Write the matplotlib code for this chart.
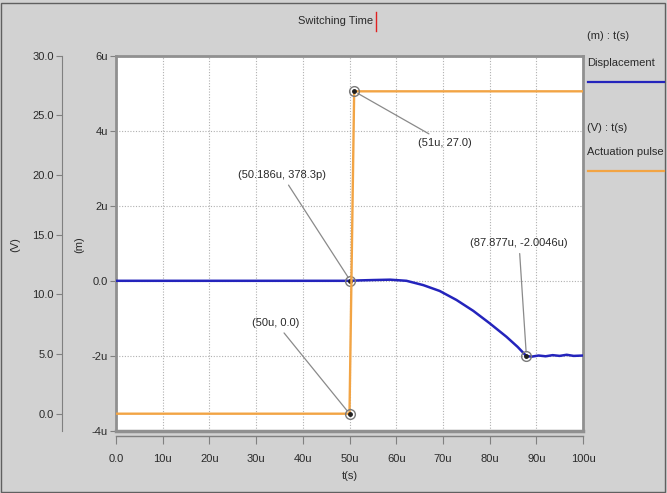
import matplotlib
matplotlib.use("Agg")
import matplotlib.pyplot as plt
from matplotlib.lines import Line2D
from matplotlib.patches import Rectangle

plt.rcParams['font.family'] = ['Liberation Sans Narrow', 'Liberation Sans', 'DejaVu Sans']
plt.rcParams['font.size'] = 8

# data (time in microseconds)
t_disp = [0, 50, 50.186, 52, 55, 58.7, 62.2, 65.8, 69.3, 72.9, 76.5, 80, 83.6, 86.0, 87.877,
          89, 90.5, 92, 93.5, 95, 96.5, 98, 100]
disp = [0, 0, 0.0003783, 0.01, 0.02, 0.03, 0.0, -0.115, -0.27, -0.51, -0.80, -1.13, -1.49,
        -1.76, -2.0046, -2.02, -1.99, -2.01, -1.98, -2.0, -1.97, -2.0, -1.99]

t_pulse = [0, 50, 51, 100]
v_pulse = [0, 0, 27, 27]

x_ticks = [0, 10, 20, 30, 40, 50, 60, 70, 80, 90, 100]
x_labels = ['0.0', '10u', '20u', '30u', '40u', '50u', '60u', '70u', '80u', '90u', '100u']
m_ticks = [6, 4, 2, 0, -2, -4]
m_labels = ['6u', '4u', '2u', '0.0', '-2u', '-4u']
v_ticks = [30, 25, 20, 15, 10, 5, 0]
v_labels = ['30.0', '25.0', '20.0', '15.0', '10.0', '5.0', '0.0']

W, H = 667, 493
bg = '#d2d2d2'
txt = '#2a2a2a'
blue = '#2424bc'
orange = '#f2a444'

fig = plt.figure(figsize=(W / 100, H / 100), dpi=100, facecolor=bg)
fig.patches.append(Rectangle((1.5 / W, 1.5 / H), 1 - 4 / W, 1 - 4 / H, transform=fig.transFigure,
                             fill=False, edgecolor='#606060', lw=1))

left, right, top, bottom = 116, 583, 55.5, 431
ax = fig.add_axes([left / W, 1 - bottom / H, (right - left) / W, (bottom - top) / H])
ax.set_facecolor('white')

ax.plot(t_disp, disp, color=blue, lw=1.8, zorder=3)
ax.set_xlim(0, 100)
ax.set_ylim(-4, 6)
ax.set_xticks(x_ticks)
ax.set_xticklabels(x_labels)
ax.set_yticks(m_ticks)
ax.set_yticklabels(m_labels)
ax.grid(True, color='#b0b0b0', linestyle=(0, (1, 1.5)), lw=0.8)

for s in ['top', 'right', 'left']:
    ax.spines[s].set_color('#909090')
    ax.spines[s].set_linewidth(2)
ax.spines['bottom'].set_position(('outward', 3.5))
ax.spines['bottom'].set_color('#808080')
ax.spines['bottom'].set_linewidth(1)
ax.axhline(-4, color='#909090', lw=2.5, clip_on=False, zorder=4)
ax.tick_params(axis='x', direction='out', length=6, color='#808080', labelcolor=txt, pad=7)
ax.tick_params(axis='y', direction='out', length=4, color='#808080', labelcolor=txt, pad=2)
ax.set_xlabel('t(s)', color=txt, labelpad=5)

# voltage axis
ax2 = ax.twinx()
ax2.plot(t_pulse, v_pulse, color=orange, lw=1.7, zorder=3)
v_bottom = -(bottom - 413.7) / ((413.7 - top) / 30)
ax2.set_ylim(v_bottom, 30)
ax2.yaxis.set_ticks_position('left')
ax2.yaxis.set_label_position('left')
ax2.spines['left'].set_position(('axes', (62 - left) / (right - left)))
ax2.spines['left'].set_color('#808080')
for s in ['top', 'right', 'bottom']:
    ax2.spines[s].set_visible(False)
ax2.set_yticks(v_ticks)
ax2.set_yticklabels(v_labels)
ax2.tick_params(axis='y', direction='out', length=4, color='#808080', labelcolor=txt, pad=2)

fig.text(15 / W, 1 - 245 / H, '(V)', rotation=90, ha='center', va='center', color=txt)
fig.text(79 / W, 1 - 245 / H, '(m)', rotation=90, ha='center', va='center', color=txt)

# markers and annotations
mk = dict(marker='o', ms=7, mfc='none', mec='#7a7a7a', mew=1, zorder=5, clip_on=False)
dot = dict(marker='o', ms=2.5, color='#202020', zorder=6, clip_on=False)
arrow = dict(arrowstyle='-', color='#8a8a8a', lw=0.9, shrinkA=2, shrinkB=3)

ax.plot([t_disp[2]], [disp[2]], **mk)
ax.plot([t_disp[2]], [disp[2]], **dot)
ax.annotate('(50.186u, 378.3p)', xy=(t_disp[2], disp[2]), xytext=(282, H - 175),
            textcoords='figure pixels', ha='center', va='center', color=txt, arrowprops=arrow)

ax.plot([t_disp[14]], [disp[14]], **mk)
ax.plot([t_disp[14]], [disp[14]], **dot)
ax.annotate('(87.877u, -2.0046u)', xy=(t_disp[14], disp[14]), xytext=(519, H - 243),
            textcoords='figure pixels', ha='center', va='center', color=txt, arrowprops=arrow)

ax2.plot([t_pulse[2]], [v_pulse[2]], **mk)
ax2.plot([t_pulse[2]], [v_pulse[2]], **dot)
ax2.annotate('(51u, 27.0)', xy=(t_pulse[2], v_pulse[2]), xytext=(445, H - 143),
             textcoords='figure pixels', ha='center', va='center', color=txt, arrowprops=arrow)

ax2.plot([t_pulse[1]], [v_pulse[1]], **mk)
ax2.plot([t_pulse[1]], [v_pulse[1]], **dot)
ax2.annotate('(50u, 0.0)', xy=(t_pulse[1], v_pulse[1]), xytext=(276, H - 323),
             textcoords='figure pixels', ha='center', va='center', color=txt, arrowprops=arrow)

# title with text cursor
fig.text(336 / W, 1 - 21 / H, 'Switching Time', ha='center', va='center', color=txt)
fig.lines.append(Line2D([375.5 / W, 375.5 / W], [1 - 12 / H, 1 - 31 / H],
                        transform=fig.transFigure, color='#e02020', lw=1))

# legend on the right
fig.text(587 / W, 1 - 36 / H, '(m) : t(s)', ha='left', va='center', color=txt)
fig.text(587 / W, 1 - 63 / H, 'Displacement', ha='left', va='center', color=txt)
fig.lines.append(Line2D([588 / W, 664 / W], [1 - 82 / H, 1 - 82 / H],
                        transform=fig.transFigure, color=blue, lw=1.6))
fig.text(587 / W, 1 - 128 / H, '(V) : t(s)', ha='left', va='center', color=txt)
fig.text(587 / W, 1 - 152 / H, 'Actuation pulse', ha='left', va='center', color=txt)
fig.lines.append(Line2D([588 / W, 664 / W], [1 - 171 / H, 1 - 171 / H],
                        transform=fig.transFigure, color=orange, lw=1.6))

fig.savefig('out.png', dpi=100, facecolor=bg)
